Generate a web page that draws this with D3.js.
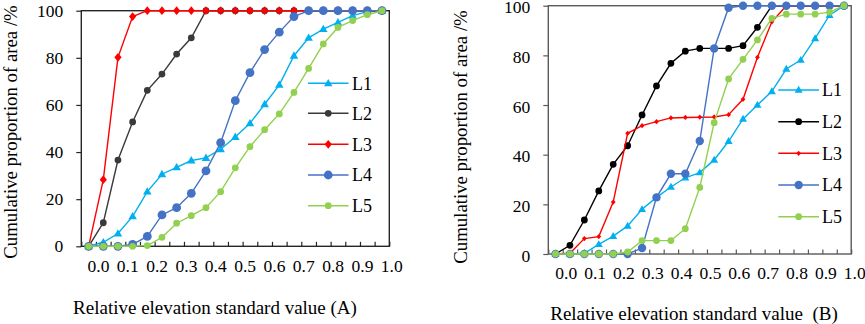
<!DOCTYPE html>
<html><head><meta charset="utf-8">
<script src="https://cdn.jsdelivr.net/npm/d3@7"></script>
<style>
body{margin:0;background:#fff}
svg{display:block}
text{font-family:"Liberation Serif","Times New Roman",serif;fill:#000}
</style>
</head><body><svg id="chart" width="865" height="324"></svg>
<script>
// ---------- data ----------
const xValues = [-0.025,0.025,0.075,0.125,0.175,0.225,0.275,0.325,0.375,0.425,0.475,0.525,0.575,0.625,0.675,0.725,0.775,0.825,0.875,0.925,0.975];
const xTickValues = [0,0.1,0.2,0.3,0.4,0.5,0.6,0.7,0.8,0.9,1.0];
const xTickLabels = ["0.0","0.1","0.2","0.3","0.4","0.5","0.6","0.7","0.8","0.9","1.0"];
const yTickValues = [0,20,40,60,80,100];
const seriesNames = ["L1","L2","L3","L4","L5"];

// Panel A
const A_L1 = [0,1.7,5.4,12.7,23.2,30.6,33.5,36.4,37.5,41.2,46.4,52.2,60.3,68.5,80.9,88.5,92.2,95.0,97.9,99.6,100];
const A_L2 = [0,10.0,36.6,52.8,66.2,73.1,81.6,88.5,100,100,100,100,100,100,100,100,100,100,100,100,100];
const A_L3 = [0,28.3,80.2,97.5,100,100,100,100,100,100,100,100,100,100,100,100,100,100,100,100,100];
const A_L4 = [0,0,0,0.8,4.2,13.3,16.4,22.5,32.0,44.0,61.8,73.7,83.5,90.9,97.5,100,100,100,100,100,100];
const A_L5 = [0,0,0,0,0.3,3.8,9.8,13.0,16.4,23.2,33.3,42.3,49.5,56.2,65.3,75.5,85.9,92.9,95.8,98.3,100];

// Panel B
const B_L1 = [0,0,0.3,3.9,7.2,11.3,18.0,22.8,27.0,30.7,32.8,37.9,45.4,54.4,60.0,65.5,74.5,78.1,86.8,96.2,100];
const B_L2 = [0,3.5,13.7,25.4,36.1,43.6,56.0,67.7,76.8,81.7,82.8,82.8,82.8,83.9,91.3,100,100,100,100,100,100];
const B_L3 = [0,0.3,6.2,7.0,20.9,48.6,51.7,53.3,54.8,55.0,55.1,55.2,56.1,62.3,79.2,93.5,100,100,100,100,100];
const B_L4 = [0,0,0,0,0,0,2.4,22.8,32.3,32.3,45.5,82.8,99.2,100,100,100,100,100,100,100,100];
const B_L5 = [0,0,0,0,0,0.8,5.4,5.4,5.4,10.2,26.8,52.9,70.5,78.4,86.2,94.9,96.6,96.6,96.6,97.4,100];

const xTitleA = "Relative elevation standard value (A)";
const xTitleB = "Relative elevation standard value\u00a0\u00a0(B)";
const yTitle = "Cumulative proportion of area /%";

// ---------- drawing ----------
const svg = d3.select("#chart");

function diamondType(hw, hh){
  return {draw(ctx){ ctx.moveTo(0,-hh); ctx.lineTo(hw,0); ctx.lineTo(0,hh); ctx.lineTo(-hw,0); ctx.closePath(); }};
}
function triType(w){
  const h = w*0.866;
  return {draw(ctx){ ctx.moveTo(0,-h*0.6); ctx.lineTo(w/2,h*0.4); ctx.lineTo(-w/2,h*0.4); ctx.closePath(); }};
}
function circType(r){
  return {draw(ctx){ ctx.moveTo(r,0); ctx.arc(0,0,r,0,2*Math.PI); }};
}

function drawPanel(cfg){
  const x = d3.scaleLinear().domain([-0.05,1.0]).range([cfg.left,cfg.right]);
  const y = d3.scaleLinear().domain([0,100]).range([cfg.bottom,cfg.top]);
  const g = svg.append("g");

  // x inward ticks every 0.05
  const minor = d3.range(22).map(k => -0.05 + k*0.05);
  g.append("g").attr("transform",`translate(0,${cfg.bottom})`)
    .call(d3.axisBottom(x).tickValues(minor).tickSizeInner(-4.5).tickSizeOuter(0).tickFormat(""))
    .call(s=>{s.select(".domain").remove(); s.selectAll("line").attr("stroke",cfg.frame).attr("stroke-width",1.2);});
  // x labels
  g.append("g").attr("transform",`translate(${cfg.xLabDx},${cfg.bottom})`)
    .call(d3.axisBottom(x).tickValues(xTickValues).tickSize(0).tickPadding(cfg.xLabPad).tickFormat((d,i)=>xTickLabels[i]))
    .call(s=>{s.select(".domain").remove(); s.selectAll("text").style("font-size",cfg.tickFont+"px").style("font-family","'Liberation Serif',serif");});
  // y axis
  g.append("g").attr("transform",`translate(${cfg.left},0)`)
    .call(d3.axisLeft(y).tickValues(yTickValues).tickSizeInner(5).tickSizeOuter(0).tickPadding(cfg.yLabPad).tickFormat(d=>d))
    .call(s=>{s.select(".domain").remove(); s.selectAll("line").attr("stroke",cfg.frame).attr("stroke-width",1.2);
      s.selectAll("text").style("font-size",cfg.tickFont+"px").style("font-family","'Liberation Serif',serif")
        .attr("transform",`translate(0,${cfg.yLabDy})`);});
  // frame
  g.append("rect").attr("x",cfg.left).attr("y",cfg.top)
    .attr("width",cfg.right-cfg.left).attr("height",cfg.bottom-cfg.top)
    .attr("fill","none").attr("stroke",cfg.frame).attr("stroke-width",1.4);

  // series
  const line = d3.line().x((d,i)=>x(xValues[i])).y(d=>y(d));
  cfg.series.forEach(s=>{
    g.append("path").datum(s.values).attr("d",line).attr("fill","none")
      .attr("stroke",s.color).attr("stroke-width",s.lw||1.4);
    g.selectAll(null).data(s.values).enter().append("path")
      .attr("d",d3.symbol().type(s.symbol))
      .attr("transform",(d,i)=>`translate(${x(xValues[i])},${y(d)})`)
      .attr("fill",s.color);
  });

  // legend
  cfg.series.forEach((s,i)=>{
    const ly = cfg.legY[i];
    g.append("line").attr("x1",cfg.legX1).attr("x2",cfg.legX2).attr("y1",ly).attr("y2",ly)
      .attr("stroke",s.color).attr("stroke-width",s.lw||1.4);
    g.append("path").attr("d",d3.symbol().type(s.symbol))
      .attr("transform",`translate(${(cfg.legX1+cfg.legX2)/2},${ly})`).attr("fill",s.color);
    g.append("text").attr("x",cfg.legTx).attr("y",ly).attr("dy","0.35em")
      .style("font-size",cfg.legFont+"px").text(s.name);
  });

  // titles
  g.append("text").attr("x",cfg.xtX).attr("y",cfg.xtY).attr("text-anchor","middle")
    .style("font-size",cfg.xTitleFont+"px").text(cfg.xTitle);
  g.append("text").attr("transform",`translate(${cfg.ytX},${cfg.ytY}) rotate(-90)`).attr("text-anchor","middle")
    .style("font-size",cfg.yTitleFont+"px").text(yTitle);
}

drawPanel({
  left:81.3, right:389.3, top:10.7, bottom:246.3, frame:"#262626",
  xLabDx:2, xLabPad:13.5, yLabPad:13, yLabDy:0, tickFont:17.5, legFont:18, xTitleFont:19, yTitleFont:18.8,
  legX1:308, legX2:348.5, legTx:352, legY:[83.3,113.3,144.3,175,205.7],
  xtX:215, xtY:314, ytX:16.5, ytY:132, xTitle:xTitleA,
  series:[
    {name:seriesNames[0], values:A_L1, color:"#00B0F0", symbol:triType(8.5)},
    {name:seriesNames[1], values:A_L2, color:"#3A3A3A", symbol:circType(3.4)},
    {name:seriesNames[2], values:A_L3, color:"#FF0000", symbol:diamondType(3.6,4.4)},
    {name:seriesNames[3], values:A_L4, color:"#4472C4", symbol:circType(4.4)},
    {name:seriesNames[4], values:A_L5, color:"#92D050", symbol:circType(3.4)}
  ]
});

drawPanel({
  left:548.3, right:851.2, top:5.7, bottom:254, frame:"#595959",
  xLabDx:3, xLabPad:13, yLabPad:13, yLabDy:1.5, tickFont:17.5, legFont:18, xTitleFont:19, yTitleFont:18.8,
  legX1:778.3, legX2:819, legTx:822, legY:[90,121.7,153.3,185,216.7],
  xtX:694, xtY:320, ytX:467, ytY:137, xTitle:xTitleB,
  series:[
    {name:seriesNames[0], values:B_L1, color:"#00B0F0", symbol:triType(8)},
    {name:seriesNames[1], values:B_L2, color:"#000000", symbol:circType(3.4)},
    {name:seriesNames[2], values:B_L3, color:"#FF0000", symbol:diamondType(2.4,2.6)},
    {name:seriesNames[3], values:B_L4, color:"#4472C4", symbol:circType(4.2)},
    {name:seriesNames[4], values:B_L5, color:"#92D050", symbol:circType(3.4)}
  ]
});
</script>
</body></html>
